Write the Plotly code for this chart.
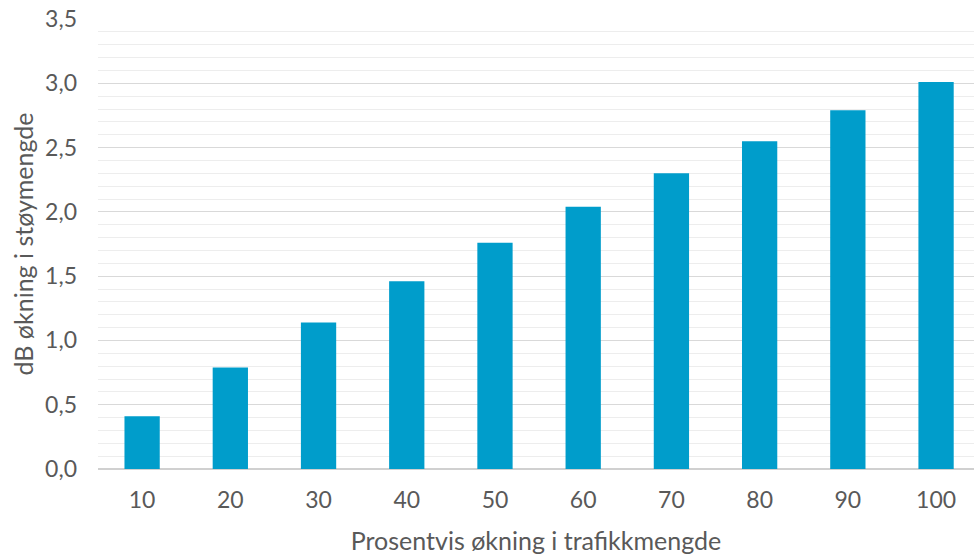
import plotly.graph_objects as go

# Percent increase in traffic volume and the resulting noise increase in dB
okning_trafikk = ["10", "20", "30", "40", "50", "60", "70", "80", "90", "100"]
okning_db = [0.41, 0.79, 1.14, 1.46, 1.76, 2.04, 2.30, 2.55, 2.79, 3.01]

y_ticks = [0.0, 0.5, 1.0, 1.5, 2.0, 2.5, 3.0, 3.5]

text_color = "#595959"
font_family = "Lato, Open Sans, sans-serif"

fig = go.Figure(
    go.Bar(
        x=okning_trafikk,
        y=okning_db,
        marker=dict(color="#009DCB", line=dict(width=0)),
        hoverinfo="x+y",
    )
)

fig.update_layout(
    width=974,
    height=558,
    margin=dict(l=98, r=0, t=19, b=89),
    paper_bgcolor="white",
    plot_bgcolor="white",
    separators=",.",
    bargap=0.6,
    showlegend=False,
    font=dict(family=font_family, color=text_color, size=23),
)

fig.update_xaxes(
    type="category",
    range=[-0.5, 9.43],
    showgrid=False,
    showline=False,
    ticks="",
    tickfont=dict(size=23, color=text_color),
    ticklabelstandoff=15,
    title=dict(
        text="Prosentvis økning i trafikkmengde",
        font=dict(size=25, color=text_color),
        standoff=20,
    ),
)

fig.update_yaxes(
    range=[0, 3.5],
    tickvals=y_ticks,
    tickformat=".1f",
    showgrid=True,
    gridcolor="#D9D9D9",
    gridwidth=1.3,
    zeroline=True,
    zerolinecolor="#D0D0D0",
    zerolinewidth=1.5,
    minor=dict(dtick=0.1, showgrid=True, gridcolor="#EDEDED", gridwidth=1.3),
    ticks="",
    tickfont=dict(size=23, color=text_color),
    ticklabelstandoff=20,
    title=dict(
        text="dB økning i støymengde",
        font=dict(size=25, color=text_color),
        standoff=4,
    ),
)

fig.write_html("out.html")
